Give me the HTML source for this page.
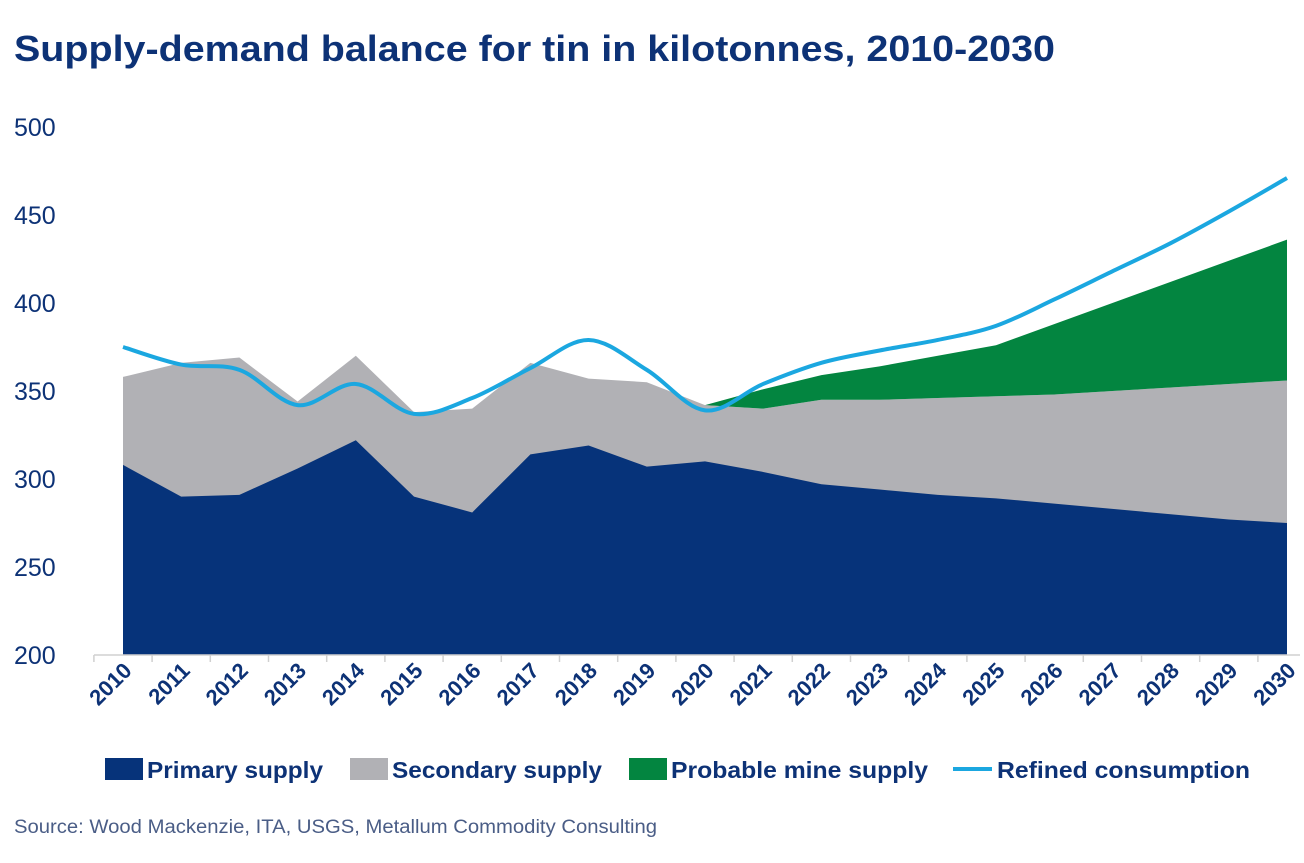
<!DOCTYPE html>
<html><head><meta charset="utf-8"><style>
html,body{margin:0;padding:0;background:#fff;}
svg text{font-family:"Liberation Sans",sans-serif;}
</style></head><body>
<svg id="chart" width="1304" height="858" viewBox="0 0 1304 858" xmlns="http://www.w3.org/2000/svg">
<text x="14" y="61" font-size="36" font-weight="bold" fill="#0d3276" textLength="1041" lengthAdjust="spacingAndGlyphs">Supply-demand balance for tin in kilotonnes, 2010-2030</text>
<g id="plot"></g>
<g id="legend">
<rect x="105" y="758" width="38" height="22" fill="#06337a"/>
<text x="147" y="778" font-size="23" font-weight="bold" fill="#0d3276" textLength="176" lengthAdjust="spacingAndGlyphs">Primary supply</text>
<rect x="350" y="758" width="38" height="22" fill="#b1b1b5"/>
<text x="392" y="778" font-size="23" font-weight="bold" fill="#0d3276" textLength="210" lengthAdjust="spacingAndGlyphs">Secondary supply</text>
<rect x="629" y="758" width="38" height="22" fill="#038540"/>
<text x="671" y="778" font-size="23" font-weight="bold" fill="#0d3276" textLength="257" lengthAdjust="spacingAndGlyphs">Probable mine supply</text>
<line x1="953" y1="769" x2="992" y2="769" stroke="#1ba7e0" stroke-width="4"/>
<text x="997" y="778" font-size="23" font-weight="bold" fill="#0d3276" textLength="253" lengthAdjust="spacingAndGlyphs">Refined consumption</text>
</g>
<text x="14" y="833" font-size="19" fill="#4a5d86" textLength="643" lengthAdjust="spacingAndGlyphs">Source: Wood Mackenzie, ITA, USGS, Metallum Commodity Consulting</text>
</svg>
<script>
const years=[2010,2011,2012,2013,2014,2015,2016,2017,2018,2019,2020,2021,2022,2023,2024,2025,2026,2027,2028,2029,2030];
const primary=[308,290,291,306,322,290,281,314,319,307,310,304,297,294,291,289,286,283,280,277,275];
const totalSupply=[358,366,369,344,370,338,340,366,357,355,342,340,345,345,346,347,348,350,352,354,356];
const probableTop=[null,null,null,null,null,null,null,null,null,null,342,351,359,364,370,376,388,400,412,424,436];
const consumption=[375,365,362,342,354,337,346,363,379,362,339,354,366,373,379,387,402,418,434,452,471];
const yTicks=[200,250,300,350,400,450,500];
const NS="http://www.w3.org/2000/svg";
const g=document.getElementById('plot');
const x0=123,step=58.2;
const X=i=>x0+i*step;
const Y=v=>655-(v-200)*1.76;
function mk(t,a){const e=document.createElementNS(NS,t);for(const k in a)e.setAttribute(k,a[k]);g.appendChild(e);return e;}
function area(top,bot,idx){let d='';idx.forEach((i,k)=>{d+=(k?'L':'M')+X(i)+','+Y(top[i]);});for(let k=idx.length-1;k>=0;k--){const i=idx[k];d+='L'+X(i)+','+(bot?Y(bot[i]):Y(200));}return d+'Z';}
const all=years.map((_,i)=>i);
let p=mk('path',{d:area(totalSupply,null,all),fill:'#b1b1b5'});


p=mk('path',{d:area(primary,null,all),fill:'#06337a'});


const fut=all.filter(i=>probableTop[i]!==null);
p=mk('path',{d:area(probableTop,totalSupply,fut),fill:'#038540'});


let ax=mk('line',{x1:94,y1:655,x2:1300,y2:655,stroke:'#d0d0d0','stroke-width':1.5});


for(let i=0;i<=years.length;i++){const t=mk('line',{x1:X(i)-step/2,y1:655,x2:X(i)-step/2,y2:662,stroke:'#d0d0d0','stroke-width':1.5});

}
years.forEach((yr,i)=>{const t=mk('text',{x:X(i)+10,y:672,'font-size':22,'font-weight':'bold',fill:'#0d3276','text-anchor':'end',transform:`rotate(-45 ${X(i)+10} 672)`});t.textContent=yr;

});
yTicks.forEach(v=>{const t=mk('text',{x:14,y:Y(v)+9,'font-size':25,fill:'#0d3276'});t.textContent=v;

});
const pts=consumption.map((v,i)=>[X(i),Y(v)]);
let d='M'+pts[0][0]+','+pts[0][1];
for(let i=0;i<pts.length-1;i++){const p0=pts[i-1]||pts[i],p1=pts[i],p2=pts[i+1],p3=pts[i+2]||p2;const s=6;
d+=`C${p1[0]+(p2[0]-p0[0])/s},${p1[1]+(p2[1]-p0[1])/s} ${p2[0]-(p3[0]-p1[0])/s},${p2[1]-(p3[1]-p1[1])/s} ${p2[0]},${p2[1]}`;}
p=mk('path',{d:d,fill:'none',stroke:'#1ba7e0','stroke-width':4,'stroke-linejoin':'round'});


</script>
</body></html>
